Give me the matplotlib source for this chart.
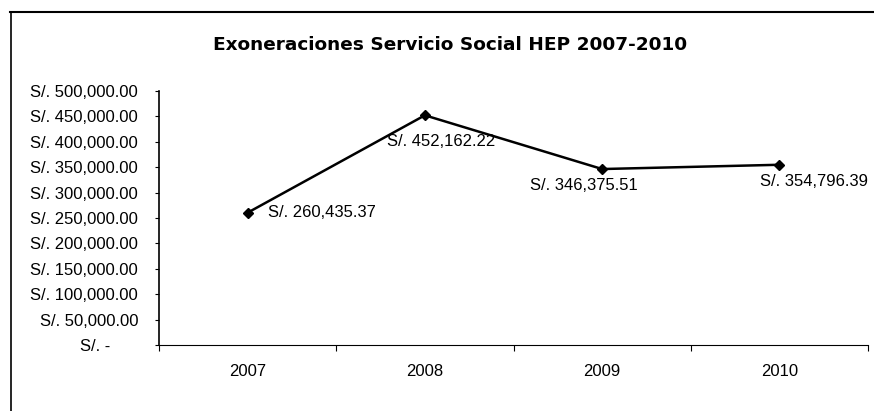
import matplotlib
matplotlib.use("Agg")
import matplotlib.pyplot as plt
from matplotlib.lines import Line2D

years = ["2007", "2008", "2009", "2010"]
values = [260435.37, 452162.22, 346375.51, 354796.39]
value_labels = ["S/. 260,435.37", "S/. 452,162.22", "S/. 346,375.51", "S/. 354,796.39"]
y_ticks = [0, 50000, 100000, 150000, 200000, 250000, 300000, 350000, 400000, 450000, 500000]
y_tick_labels = ["S/. -      ", "S/. 50,000.00", "S/. 100,000.00", "S/. 150,000.00",
                 "S/. 200,000.00", "S/. 250,000.00", "S/. 300,000.00", "S/. 350,000.00",
                 "S/. 400,000.00", "S/. 450,000.00", "S/. 500,000.00"]
title = "Exoneraciones Servicio Social HEP 2007-2010"

plt.rcParams['font.family'] = ['Liberation Sans', 'DejaVu Sans']

W, H = 874, 411
fig = plt.figure(figsize=(W/100, H/100), dpi=100)
ax = fig.add_axes([159/W, 1-345/H, (868-159)/W, (345-91)/H])

x = list(range(len(years)))
ax.plot(x, values, color='black', lw=1.8, marker='D', ms=5.5, mfc='black', mec='black')

ax.set_xlim(-0.5, len(years) - 0.5)
ax.set_ylim(0, 500000)
ax.set_yticks(y_ticks)
ax.set_yticklabels(y_tick_labels, fontsize=12)
ax.set_xticks(x)
ax.set_xticklabels(years, fontsize=12)
ax.set_xticks([i - 0.5 for i in range(len(years) + 1)], minor=True)
ax.tick_params(axis='x', which='major', length=0, pad=13.5)
ax.tick_params(axis='x', which='minor', length=4, width=0.8, direction='out')
ax.tick_params(axis='y', length=3, width=0.8, pad=12)

for s in ['top', 'right']:
    ax.spines[s].set_visible(False)
ax.spines['left'].set_linewidth(1.2)
ax.spines['bottom'].set_linewidth(0.8)

offsets = [(15, 0, 'left', 'center'), (12, -19, 'center', 'center'),
           (-13, -12, 'center', 'center'), (-14, -12, 'left', 'center')]
for xi, v, lab, (dx, dy, ha, va) in zip(x, values, value_labels, offsets):
    ax.annotate(lab, (xi, v), xytext=(dx, dy), textcoords='offset points',
                ha=ha, va=va, fontsize=12, annotation_clip=False)

t = fig.text(213/W, 1 - 45/H, title, ha='left', va='center', fontsize=13,
             fontweight='bold', family='DejaVu Sans')
r = fig.canvas.get_renderer()
wpx = t.get_window_extent(r).width
t.set_fontsize(13 * 472 / wpx)

# outer frame (top and left)
fig.add_artist(Line2D([10/W, 1], [1-12/H, 1-12/H], color='black', lw=1.5, transform=fig.transFigure))
fig.add_artist(Line2D([11/W, 11/W], [0, 1-12/H], color='black', lw=1.2, transform=fig.transFigure))

fig.savefig("out.png", dpi=100)
